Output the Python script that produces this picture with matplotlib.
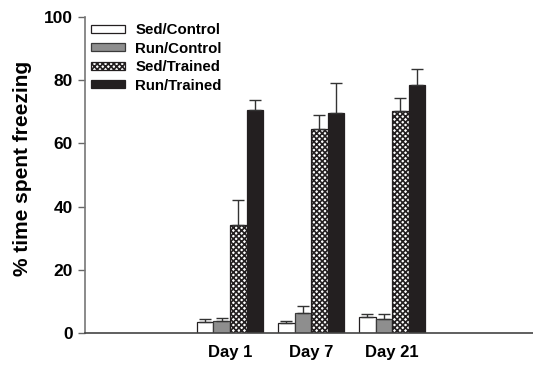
import matplotlib
matplotlib.use("Agg")
import matplotlib.pyplot as plt
import numpy as np

plt.rcParams['font.family'] = ['Liberation Sans', 'DejaVu Sans']
plt.rcParams['font.weight'] = 'bold'
plt.rcParams['hatch.linewidth'] = 1.2

days = ["Day 1", "Day 7", "Day 21"]
groups = ["Sed/Control", "Run/Control", "Sed/Trained", "Run/Trained"]

sed_control = [3.6, 3.1, 5.0]
run_control = [3.8, 6.4, 4.3]
sed_trained = [34.1, 64.5, 70.4]
run_trained = [70.6, 69.5, 78.5]

sed_control_err = [0.7, 0.8, 0.9]
run_control_err = [0.8, 2.1, 1.6]
sed_trained_err = [8.0, 4.6, 3.9]
run_trained_err = [3.1, 9.7, 4.9]

values = [sed_control, run_control, sed_trained, run_trained]
errors = [sed_control_err, run_control_err, sed_trained_err, run_trained_err]

styles = [
    dict(facecolor="white", edgecolor="#231f20", hatch=None),
    dict(facecolor="#8e8e8e", edgecolor="#3a3a3a", hatch=None),
    dict(facecolor="white", edgecolor="#231f20", hatch="xxxxxx"),
    dict(facecolor="#231f20", edgecolor="#231f20", hatch=None),
]

fig = plt.figure(figsize=(5.33, 3.65), dpi=100)
ax = fig.add_axes([0.1595, 0.0877, 0.8405, 0.8657])

x = np.arange(1, len(days) + 1)
w = 0.204
for i, (vals, errs, st) in enumerate(zip(values, errors, styles)):
    pos = x + (i - 1.5) * w
    ax.bar(pos, vals, width=w, label=groups[i], linewidth=0.9, **st)
    ax.errorbar(pos, vals, yerr=[np.zeros(len(errs)), errs], fmt="none",
                ecolor="#333333", elinewidth=1.0, capsize=4.5, capthick=1.0)

ax.set_xlim(x[0] - 1.79, x[0] + 3.74)
ax.set_ylim(0, 100)
ax.set_yticks([0, 20, 40, 60, 80, 100])
ax.set_xticks(x)
ax.set_xticklabels(days, fontsize=12, fontweight="bold")
ax.tick_params(axis="x", length=0, pad=9)
ax.tick_params(axis="y", direction="out", length=5, width=1, color="#666666",
               labelsize=12.5, pad=4)
for lab in ax.get_yticklabels():
    lab.set_fontweight("bold")

ax.spines["top"].set_visible(False)
ax.spines["right"].set_visible(False)
ax.spines["left"].set_color("#777777")
ax.spines["bottom"].set_color("#444444")
ax.spines["left"].set_linewidth(1.2)
ax.spines["bottom"].set_linewidth(1.2)

ax.set_ylabel("% time spent freezing", fontsize=15, fontweight="bold")
ax.yaxis.set_label_coords(-0.118, 0.522)

leg = ax.legend(loc="upper left", bbox_to_anchor=(0.0, 1.0), frameon=False,
                fontsize=10.8, handlelength=2.27, handleheight=0.47,
                labelspacing=0.3, handletextpad=0.67, borderaxespad=0.0)

fig.savefig("out.png", dpi=100)
